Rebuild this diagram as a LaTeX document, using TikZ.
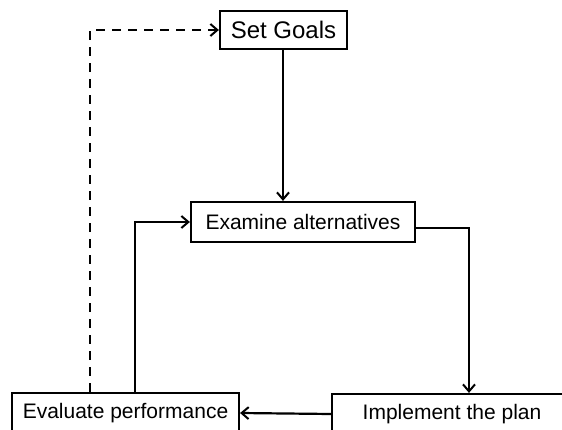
\documentclass[tikz,border=0pt]{standalone}
\usepackage{fontspec}
\setmainfont{Liberation Sans}
\usetikzlibrary{arrows.meta}
\begin{document}
\begin{tikzpicture}[x=1pt,y=-1pt,
  box/.style={draw=black,line width=2.2pt,fill=white,inner sep=0pt,anchor=center,font=\fontsize{21}{24}\selectfont},
  conn/.style={line width=2.2pt,-{Straight Barb[length=7pt,width=12pt,line width=2pt]}},
  dconn/.style={conn,dash pattern=on 9pt off 7pt}]
\useasboundingbox (0,0) rectangle (562,430);
\fill[white] (0,0) rectangle (562,430);
\begin{scope}
\clip (0,0) rectangle (562,430);
\node[box,minimum width=127pt,minimum height=38pt,font=\fontsize{24}{28}\selectfont] (goals) at (283.5,30) {Set Goals};
\node[box,minimum width=224pt,minimum height=40pt] (exam) at (303,222) {Examine alternatives};
\node[box,minimum width=227pt,minimum height=40pt] (eval) at (125.5,413) {Evaluate performance};
\node[box,minimum width=240pt,minimum height=40pt] (impl) at (452,414) {Implement the plan};
\coordinate (c1) at (469,228);
\coordinate (e1) at (135,222);
\coordinate (d1) at (90,30);
\draw[conn] (goals.south -| 283,0) -- (exam.north -| 283,0);
\draw[conn] (exam.east |- c1) -- (c1) -- (c1 |- impl.north);
\draw[conn] (impl.west) -- (eval.east);
\draw[conn] (eval.north -| e1) -- (e1) -- (exam.west);
\draw[dconn] (eval.north -| d1) -- (d1) -- (goals.west);
\end{scope}
\end{tikzpicture}
\end{document}
